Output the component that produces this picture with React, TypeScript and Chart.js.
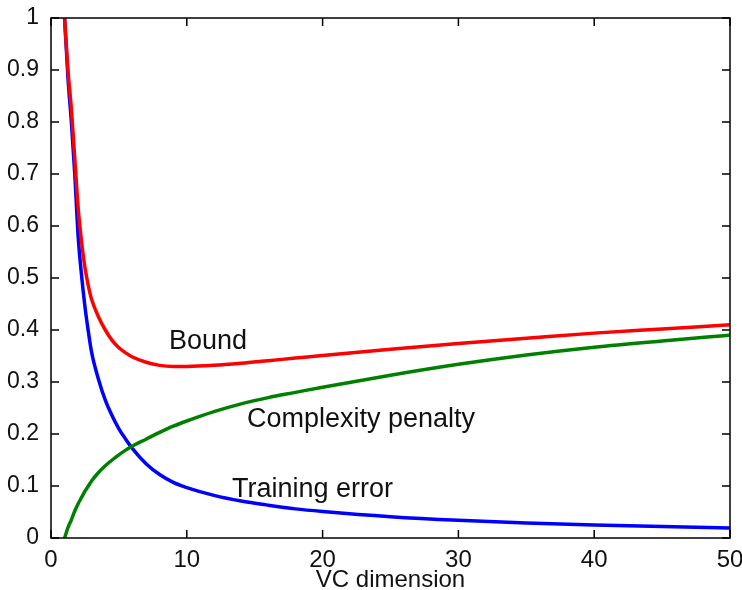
import React, { useEffect, useRef } from "react";
import { Chart, registerables } from "chart.js";

Chart.register(...registerables);

const vcDims = [1, 1.25, 1.5, 1.75, 2, 2.25, 2.5, 2.75, 3, 3.5, 4, 4.5, 5, 5.5, 6, 7, 8, 9, 10, 12, 14, 16, 18, 20, 25, 30, 35, 40, 45, 50];
const trainingError = [1.0, 0.885, 0.8, 0.7, 0.58, 0.505, 0.445, 0.397, 0.356, 0.305, 0.265, 0.235, 0.21, 0.19, 0.172, 0.143, 0.122, 0.107, 0.097, 0.082, 0.071, 0.063, 0.056, 0.051, 0.041, 0.034, 0.029, 0.025, 0.022, 0.019];
const complexityPenalty = [0, 0.02, 0.035, 0.052, 0.066, 0.078, 0.09, 0.1, 0.11, 0.126, 0.139, 0.15, 0.16, 0.169, 0.177, 0.19, 0.203, 0.215, 0.225, 0.243, 0.258, 0.27, 0.28, 0.29, 0.313, 0.334, 0.352, 0.367, 0.379, 0.39];
const bound = [1.0, 0.9, 0.825, 0.73, 0.635, 0.57, 0.52, 0.485, 0.458, 0.425, 0.4, 0.38, 0.366, 0.356, 0.348, 0.338, 0.332, 0.33, 0.33, 0.332, 0.336, 0.341, 0.346, 0.351, 0.363, 0.374, 0.384, 0.394, 0.402, 0.41];

const xTicks = [0, 10, 20, 30, 40, 50];
const yTicks = [0, 0.1, 0.2, 0.3, 0.4, 0.5, 0.6, 0.7, 0.8, 0.9, 1];

const labelTexts = ["Bound", "Complexity penalty", "Training error"];
const labelX = [8.69, 14.43, 13.33];
const labelY = [0.3635, 0.2135, 0.079];

const FONT = "'Liberation Sans', Arial, Helvetica, sans-serif";

const framePlugin = {
  id: "frameTicks",
  afterDraw(chart: any) {
    const { ctx, chartArea } = chart;
    const xs = chart.scales.x;
    const ys = chart.scales.y;
    const { left, right, top, bottom } = chartArea;
    ctx.save();
    ctx.strokeStyle = "#000";
    ctx.lineWidth = 1.5;
    ctx.strokeRect(left, top, right - left, bottom - top);
    const tl = 8;
    ctx.beginPath();
    xTicks.forEach((v) => {
      const px = xs.getPixelForValue(v);
      ctx.moveTo(px, bottom);
      ctx.lineTo(px, bottom - tl);
      ctx.moveTo(px, top);
      ctx.lineTo(px, top + tl);
    });
    yTicks.forEach((v) => {
      const py = ys.getPixelForValue(v);
      ctx.moveTo(left, py);
      ctx.lineTo(left + tl, py);
      ctx.moveTo(right, py);
      ctx.lineTo(right - tl, py);
    });
    ctx.stroke();

    ctx.fillStyle = "#111";
    ctx.font = `27px ${FONT}`;
    ctx.textAlign = "left";
    ctx.textBaseline = "alphabetic";
    labelTexts.forEach((t, i) => {
      ctx.fillText(t, xs.getPixelForValue(labelX[i]), ys.getPixelForValue(labelY[i]));
    });
    ctx.restore();
  },
};

export default function App() {
  const ref = useRef<HTMLCanvasElement>(null);

  useEffect(() => {
    document.body.style.margin = "0";
    const canvas = ref.current;
    if (!canvas) return;
    const toPts = (arr: number[]) => vcDims.map((x, i) => ({ x, y: arr[i] }));
    const common = {
      borderWidth: 3.5,
      pointRadius: 0,
      cubicInterpolationMode: "monotone" as const,
      fill: false,
    };
    const chart = new Chart(canvas, {
      type: "line",
      data: {
        datasets: [
          { label: "Bound", data: toPts(bound), borderColor: "#ff0000", ...common },
          { label: "Complexity penalty", data: toPts(complexityPenalty), borderColor: "#008000", ...common },
          { label: "Training error", data: toPts(trainingError), borderColor: "#0000ff", ...common },
        ],
      },
      options: {
        responsive: false,
        animation: false,
        layout: { padding: { top: 18, right: 12, left: 0, bottom: 0 } },
        plugins: {
          legend: { display: false },
          tooltip: { enabled: false },
        },
        scales: {
          x: {
            type: "linear",
            min: 0,
            max: 50,
            grid: { display: false },
            border: { display: false },
            afterBuildTicks: (scale: any) => {
              scale.ticks = xTicks.map((v) => ({ value: v }));
            },
            ticks: {
              color: "#111",
              font: { family: FONT, size: 24 },
              padding: 0,
              maxRotation: 0,
              callback: (v: any) => String(v),
            },
            title: {
              display: true,
              text: "VC dimension",
              color: "#111",
              font: { family: FONT, size: 24, lineHeight: 1 },
              padding: { top: 0, bottom: -2 },
            },
            afterFit: (scale: any) => {
              scale.height = 52;
              scale.paddingLeft = 0;
              scale.paddingRight = 0;
            },
          },
          y: {
            type: "linear",
            min: 0,
            max: 1,
            grid: { display: false },
            border: { display: false },
            afterBuildTicks: (scale: any) => {
              scale.ticks = yTicks.map((v) => ({ value: v }));
            },
            ticks: {
              color: "#111",
              font: { family: FONT, size: 23 },
              padding: 4,
              callback: (v: any) => String(v),
            },
            afterFit: (scale: any) => {
              scale.width = 51;
              scale.paddingTop = 0;
              scale.paddingBottom = 0;
            },
          },
        },
      },
      plugins: [framePlugin],
    });
    return () => chart.destroy();
  }, []);

  return (
    <div style={{ width: 742, height: 590, background: "#fff" }}>
      <canvas ref={ref} width={742} height={590} />
    </div>
  );
}
